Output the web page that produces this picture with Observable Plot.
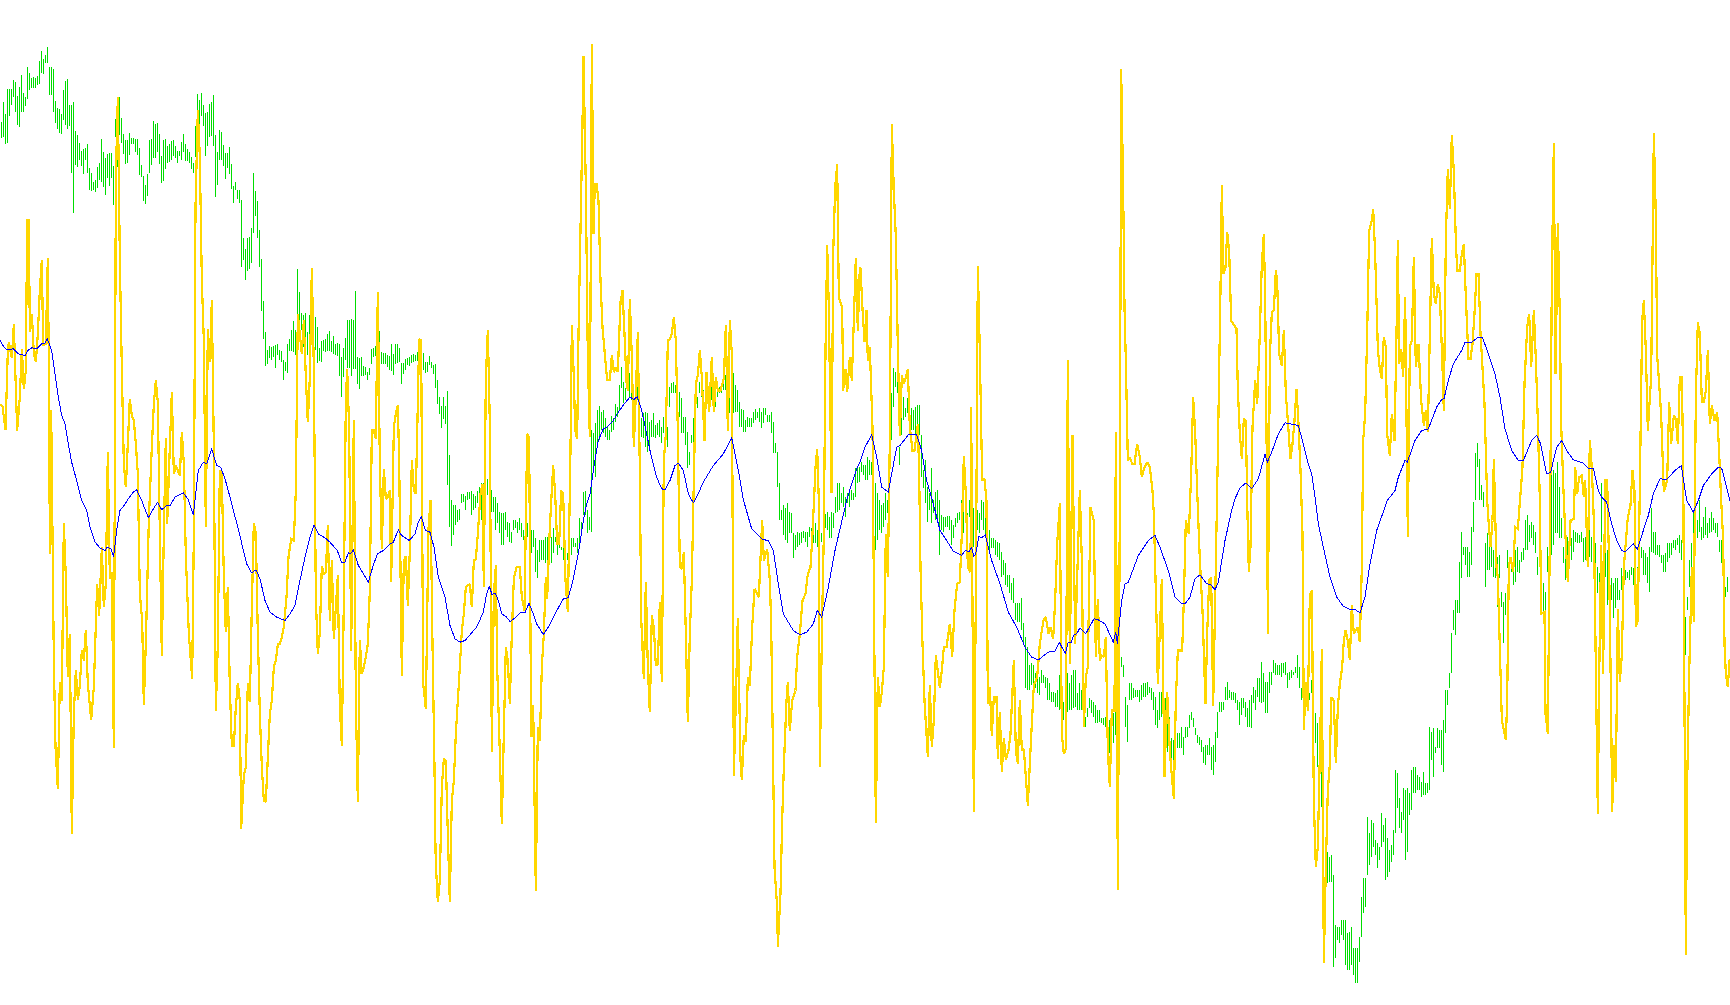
<!DOCTYPE html>
<html><head><meta charset="utf-8">
<style>html,body{margin:0;padding:0;background:#fff}svg{display:block}</style>
<script src="https://cdn.jsdelivr.net/npm/d3@7"></script>
<script src="https://cdn.jsdelivr.net/npm/@observablehq/plot@0.6"></script>
</head><body><div id="chart"></div>
<script>
// Values are on an unlabelled scale (depth units, larger = lower), positions t in samples/3.
const greenA=[366,413,306,410,342,431,267,428,267,348,267,314,240,290,246,335,288,374,261,380,
225,335,279,335,291,318,201,297,219,270,234,264,231,264,234,264,228,255,183,252,
153,219,177,222,165,189,141,189,201,285,201,285,207,336,303,369,324,387,327,399,
342,402,270,360,243,375,237,387,315,378,315,519,306,639,393,495,405,501,429,480,
453,498,447,522,444,480,432,519,504,570,519,573,546,570,540,576,501,564,489,540,
417,546,456,561,474,585,462,534,459,558,459,534,498,615,357,411,330,500,291,405,
354,429,402,462,420,492,420,489,399,465,414,432,414,432,417,456,417,465,444,525,
495,531,528,603,555,612,522,588,420,519,417,495,363,474,372,474,369,456,402,492,
468,549,420,543,417,507,438,489,432,486,423,480,420,468,438,474,453,489,453,468,
426,480,402,456,432,483,447,483,456,489,471,507,489,519,378,470,282,350,300,400,
279,348,315,378,339,468,336,438,312,411,306,408,285,438,405,591,456,555,390,480,
396,480,435,498,459,537,459,504,441,522,492,567,558,609,546,570,570,597,570,609,
600,801,714,780,747,840,714,813,711,807,684,789,519,699,573,648,603,714,690,801,
777,933,903,1017,996,1098,1050,1092,1038,1074,1041,1080,1038,1071,1035,1104,1032,1065,1050,1080,
1053,1086,1080,1140,1086,1113,1032,1119,1017,1053,990,1053,963,1056,990,1065,807,1062,876,990,
939,990,945,1040,939,1020,996,1065,945,1020,900,1000,909,1050,951,1050,981,1089,1044,1083,
1023,1086,1020,1053,1017,1056,1002,1053,993,1053,1023,1056,1008,1062,1032,1065,1029,1068,1032,1128,
1071,1191,1044,1131,1014,1080,960,1104,960,1104,957,1128,960,1107,873,1107,1071,1152,1074,1167,
1071,1128,1098,1128,1101,1125,1116,1140,1104,1125,1047,1092,1044,1071,1038,1068,1040,1090,993,1092,
1056,1092,1059,1092,1059,1092,1065,1101,1068,1110,1032,1113,1062,1125,1032,1092,1032,1089,1044,1086,
1089,1152,1089,1122,1077,1110,1074,1095,1071,1098,1065,1089,1062,1086,1065,1083,1056,1083,1053,1083,
1056,1083,1059,1110,1086,1119,1086,1116,1068,1095];
const greenB=[1086,1104,1095,1122,1092,1164,1140,1212,1191,1242,1218,1284,1191,1257,1218,1272,1173,1455,1365,1580,
1500,1637,1515,1605,1515,1575,1530,1565,1528,1560,1482,1510,1482,1505,1488,1530,1476,1500,1476,1497,
1473,1545,1482,1530,1488,1525,1473,1510,1462,1510,1448,1560,1448,1510,1490,1545,1438,1485,1470,1500,
1470,1535,1490,1535,1490,1590,1510,1570,1535,1600,1540,1635,1540,1635,1535,1590,1567,1610,1570,1625,
1595,1630,1560,1590,1560,1585,1565,1600,1555,1590,1570,1610,1590,1620,1585,1610,1570,1610,1590,1610,
1590,1660,1590,1640,1615,1715,1650,1735,1620,1685,1620,1680,1620,1680,1610,1690,1610,1680,1590,1690,
1610,1690,1585,1660,1610,1625,1625,1665,1625,1645,1640,1650,1640,1680,1645,1690,1660,1680,1650,1665,
1615,1665,1615,1640,1630,1640,1615,1660,1555,1640,1565,1590,1475,1545,1472,1545,1530,1600,1550,1590,
1290,1595,1300,1420,1270,1430,1230,1340,1218,1320,1235,1290,1230,1300,1255,1310,1280,1320,1290,1320,
1248,1295,1255,1290,1212,1265,1220,1250,1155,1230,1100,1165,1145,1210,1165,1200,1145,1170,1120,1190,
1165,1200,1165,1215,1185,1260,1060,1200,1160,1260,1255,1310,1240,1315,1235,1340,1240,1355,1265,1350,
1260,1310,1240,1310,1275,1315,1270,1305,1260,1310,1280,1330,1250,1300,1218,1330,1280,1340,1160,1220,
1150,1180,1145,1180,1155,1180,1145,1170,1175,1250,1195,1300,1250,1300,1250,1335,1295,1405,1355,1395,
1305,1330,1255,1330,1150,1200,1190,1225,1145,1180,1165,1190,1170,1230,1165,1230,1150,1200,1145,1185,
1150,1200,1145,1220,1150,1220,1160,1190,1160,1180,1170,1180,1140,1170,1125,1170,1100,1290,1120,1240,
1170,1235,1120,1240,1155,1235,1170,1235,1205,1280,1228,1280,1230,1295,1260,1295,1250,1280,1255,1280,
1255,1280,1235,1270,1228,1260,1235,1255,1225,1265,1235,1285,1225,1270,1225,1245,1245,1265,1245,1265,
1235,1300,1265,1360,1330,1360,1355,1460,1450,1560,1530,1560,1515,1605,1525,1620,1510,1630,1535,1600,
1540,1600,1600,1675,1605,1650,1595,1640,1600,1635,1595,1630,1592,1615,1595,1625,1595,1640,1580,1610,
1585,1620,1575,1630,1570,1630,1590,1640,1560,1690,1600,1625,1540,1600,1543,1585,1535,1590,1550,1615,
1535,1615,1540,1585,1490,1540,1450,1535,1450,1530,1480,1510,1460,1520,1490,1550,1480,1510,1475,1520,
1470,1500,1480,1500,1405,1490,1400,1450,1400,1445];
const greenC=[1385,1415,1395,1425,1395,1440,1370,1440,1380,1425,1385,1425,1440,1530,1450,1650,1480,1620,1500,1590,
1515,1600,1510,1580,1480,1560,1500,1540,1500,1530,1180,1320,1105,1220,1115,1160,1130,1180,1340,1395,
1240,1305,1190,1260,1225,1250,1195,1240,1205,1250,1225,1290,1230,1290,1220,1320,1215,1300,1215,1305,
1305,1430,1410,1465,1380,1510,1460,1565,1480,1530,1405,1570,1500,1540,1475,1560,1470,1555,1500,1665,
1545,1590,1550,1595,1550,1580,1548,1582,1548,1590,1560,1635,1575,1615,1555,1580,1540,1570,1535,1560,
1500,1560,1525,1600,1500,1550,1540,1580,1500,1550,1530,1590,1525,1640,1500,1540,1530,1590,1540,1600,
1500,1560,1505,1590,1550,1605,1550,1620,1590,1650,1615,1645,1615,1645,1620,1665,1625,1670,1630,1680,
1655,1730,1680,1725,1690,1755,1725,1760,1725,1780,1750,1800,1735,1810,1810,1860,1810,1865,1810,1865,
1795,1890,1870,1930,1910,2065,1940,2070,1995,2070,1990,2055,1995,2055,2020,2065,2035,2080,2030,2085,
2010,2050,2025,2050,2030,2065,2035,2100,2050,2100,2075,2105,2075,2105,2080,2120,2070,2120,2025,2130,
2080,2130,2105,2160,2020,2140,2020,2135,2050,2130,2025,2130,2010,2125,2010,2120,2080,2130,2050,2130,
2070,2130,2090,2180,2150,2180,2125,2150,2095,2125,2100,2140,2105,2150,2115,2170,2130,2170,2130,2165,
2155,2170,2155,2175,2150,2180,2165,2220,2160,2260,2200,2260,2140,2230,2065,2205,1975,2410,1785,2030,
1970,2000,1995,2030,2090,2180,2115,2225,2050,2100,2050,2100,2065,2095,2070,2090,2070,2090,2070,2105,
2055,2100,2050,2090,2050,2090,2045,2085,2060,2080,2065,2100,2075,2130,2090,2175,2130,2185,2075,2160,
2075,2150,2080,2160,2095,2220,2110,2255,2150,2255,2215,2310,2220,2325,2235,2280,2200,2245,2200,2245,
2180,2245,2210,2265,2180,2215,2180,2210,2145,2185,2135,2160,2155,2180,2185,2205,2205,2230,2210,2235,
2220,2255,2240,2290,2235,2295,2235,2265,2215,2265,2240,2310,2235,2325,2195,2285,2135,2215,2105,2135,
2105,2135,2105,2130,2060,2100,2045,2100,2070,2095,2075,2100,2075,2100,2080,2110,2100,2130,2105,2175,
2095,2145,2095,2125,2105,2150,2125,2180,2100,2180,2085,2185,2060,2110,2070,2130,2035,2090,2035,2105,
1985,2110,2020,2105,2045,2140,2045,2140,2015,2080,2015,2055,1980,2020,1990,2025,1995,2025,1995,2025,
1990,2030,1990,2020,1985,2025,2020,2065];
const greenD=[2015,2040,2010,2035,2015,2025,2000,2020,1965,2035,2000,2065,2065,2100,2040,2085,2045,2090,2045,2085,
2080,2100,2040,2080,2115,2195,2140,2230,2170,2300,2150,2400,2130,2420,2395,2520,2585,2710,2555,2650,
2570,2645,2565,2645,2625,2900,2775,2875,2780,2820,2780,2830,2760,2805,2760,2820,2760,2895,2800,2910,
2795,2910,2780,2895,2845,2925,2845,2950,2845,2950,2810,2885,2690,2810,2635,2740,2635,2720,2450,2625,
2500,2595,2460,2570,2470,2540,2520,2565,2530,2605,2540,2580,2440,2540,2475,2525,2455,2640,2515,2630,
2550,2615,2535,2585,2490,2565,2310,2500,2320,2425,2395,2485,2435,2500,2365,2460,2370,2580,2365,2555,
2380,2445,2310,2430,2300,2380,2300,2380,2325,2370,2330,2370,2345,2390,2315,2385,2350,2385,2350,2380,
2180,2370,2195,2280,2185,2330,2240,2260,2185,2245,2190,2245,2190,2295,2160,2315,2070,2200,2070,2115,
2020,2065,1900,2020,1830,1890,1800,1905,1800,1840,1685,1840,1595,1735,1640,1665,1640,1695,1640,1730,
1655,1730,1580,1695,1505,1595,1360,1500,1328,1400,1378,1500,1455,1500,1475,1520,1630,1760,1600,1710,
1630,1710,1570,1700,1650,1730,1650,1735,1670,1820,1665,1735,1775,1820,1805,1930,1780,1845,1650,1705,
1675,1705,1680,1715,1680,1755,1650,1745,1640,1715,1680,1720,1655,1685,1645,1680,1560,1650,1545,1650,
1575,1625,1565,1615,1575,1635,1595,1660,1670,1725,1670,1700,1725,1780,1750,1835,1775,1840,1640,1715,
1580,1755,1385,1665,1410,1635,1420,1600,1385,1600,1460,1615,1555,1615,1640,1690,1610,1740,1610,1670,
1640,1685,1615,1680,1590,1655,1595,1625,1600,1630,1605,1630,1595,1625,1615,1685,1610,1680,1600,1670,
1590,1670,1610,1685,1620,1690,1630,1690,1700,1780,1720,1790,1450,1625,1650,1850,1660,1730,1650,1815,
1650,1815,1735,1800,1750,1855,1735,1825,1735,1800,1770,1800,1705,1770,1705,1770,1710,1740,1715,1735,
1710,1740,1700,1725,1705,1755,1700,1725,1700,1810,1640,1710,1640,1675,1650,1725,1660,1725,1670,1750,
1640,1775,1525,1655,1595,1660,1595,1665,1635,1665,1635,1670,1665,1690,1665,1715,1660,1715,1630,1685,
1630,1675,1630,1665,1620,1645,1620,1650,1615,1635,1605,1660,1620,1680,1675,1930,1850,1965,1790,1830,
1680,1760,1630,1720,1535,1775,1535,1630,1560,1615,1500,1595,1580,1620,1550,1615,1520,1605,1570,1615,
1555,1600,1535,1595,1555,1590,1570,1600,1570,1610,1620,1655,1620,1690,1725,1820,1760,1790,1730,1775];

const yellowA=[0,1213,6,1218,15,1288,22,1050,25,1025,34,1072,40,972,50,1290,58,1190,64,1045,70,1165,76,1110,80,660,85,660,88,995,94,940,100,1060,106,1085,112,1000,118,870,124,778,128,1035,136,1030,142,772,146,1215,148,1660,152,1230,156,1600,160,1980,165,2240,172,2365,178,2045,184,2100,190,1567,196,1730,202,2030,208,1900,214,2500,220,2140,226,2010,232,2098,238,2055,244,1950,250,1980,256,1888,262,2050,272,2158,280,2060,290,1750,296,1845,304,1640,310,1820,316,1750,322,1355,328,1735,334,1715,340,2242,346,530,352,290,355,530,358,775,361,940,364,1105,370,1390,376,1460,382,1330,388,1195,394,1245,400,1260,406,1330,412,1420,418,1780,425,1860,430,2113,436,1930,445,1560,454,1340,460,1210,466,1140,472,1205,478,1600,484,1965,490,1600,496,1312,500,1570,508,1340,514,1175,520,1420,526,1395,538,1425,544,1295,550,1390,556,1665,565,1900,575,2035,580,1600,585,620,592,330,598,470,604,840,610,1020,616,1580,622,985,628,1085,634,900,640,1340,646,2130,652,1930,658,1410,664,1420,670,1730,676,1895,682,1760,688,2060,694,2235,700,2235,706,2120,712,2047,718,2100,722,2485,730,2325,736,2300,742,2047,748,2105,754,1820,760,1567,766,1600,772,1900,778,2140,784,2300,790,2400,796,2405,802,2270,808,2140,814,2100,820,2000,826,1980,832,1932,838,1930,844,1910,850,1880,858,1790,864,1670,872,1615,880,1620,886,1470,889,1205,892,940,898,1000,904,1060,910,960,916,1130,922,1265,928,1130,934,802,940,1100,946,1790,952,1960,958,1895,964,1696,970,1722,976,1715,982,1575,988,1860,994,1680,1000,1915,1006,1820,1012,1725,1018,2120,1024,2235,1030,1800,1036,1200,1040,1105,1046,1285,1052,1950,1060,1260,1066,2100,1072,2405,1078,1920,1084,2020,1090,2000,1096,1970,1102,1930,1108,1770,1114,1290,1120,1290,1126,1315,1132,875,1138,1390,1144,1645,1150,1405,1156,1495,1162,1490,1168,1470,1172,1745,1180,1280,1186,1240,1192,1215,1196,1380,1204,2025,1210,1680,1216,1667,1222,1815,1228,1650,1234,1380,1240,1470,1246,1480,1250,1300,1256,1015,1262,1020,1268,2050,1276,2125,1284,1585];
const yellowB=[0,1500,6,1930,12,2300,15,2550,18,2630,22,2705,28,2640,34,2360,40,2275,46,2280,52,2500,58,2705,64,2400,70,2340,76,2200,82,2100,88,2000,94,1890,100,1840,106,1760,112,1755,118,1750,124,1820,130,1680,136,1675,142,1600,150,1480,156,1450,160,1760,166,1130,172,990,178,1270,184,2255,190,1780,196,1695,200,2000,206,2190,214,2470,220,2200,226,1940,232,1980,238,2110,244,1900,250,1735,258,1700,268,1700,274,1790,282,1830,290,1300,296,1310,302,2210,308,2115,316,2670,322,2180,328,2220,334,2000,340,1900,346,1730,350,1795,358,1580,368,1395,374,1480,380,1630,386,1630,392,1470,398,1480,405,1740,412,1835,420,1350,424,975,430,1130,434,1290,440,1315,444,1000,450,685,456,370,459,168,466,560,472,1075,478,1310,484,132,489,700,493,550,498,550,504,600,510,840,516,980,522,1050,530,1138,538,1138,544,1065,550,1115,556,1100,562,1115,570,905,576,870,582,1000,588,1145,592,1170,598,895,604,1070,610,1340,616,1180,622,995,628,1410,632,1850,640,2035,646,1745,652,2000,658,2135,664,1845,670,1880,676,1995,682,1990,688,1805,694,2045,700,1380,706,1300,712,1020,718,1015,724,1000,730,950,736,1020,742,1290,748,1700,754,1705,760,1655,766,1900,772,2165,778,1900,784,1740,790,1440,796,1150,802,1125,808,1050,814,1130,822,1320,828,1115,836,1235,844,1070,850,1235,856,1130,862,1170,870,1170,880,1135,886,975,892,1290,898,960,904,1060,910,2325,916,2100,922,1852,930,2280,934,2338,940,2205,946,2225,952,2030,958,2055,965,1880,972,1765,985,1790,995,1560,1000,1680,1010,1645,1018,1740,1022,1870,1028,2300,1032,2600,1040,2720,1042,2838,1050,2680,1055,2460,1060,2300,1068,2100,1072,2045,1078,2190,1085,2100,1095,2070,1100,1970,1108,1900,1116,1800,1125,1780,1132,1720,1140,1700,1146,1600,1155,1400,1160,1345,1165,1500,1168,2298,1175,1850,1180,1600,1185,1050,1190,735,1195,920,1203,1477,1208,760,1214,560,1220,492,1225,890,1235,920,1238,1170,1245,1105,1250,1175,1258,1070,1264,1140,1270,960,1276,772,1282,990,1288,800];
const yellowC=[0,805,6,925,12,1025,18,930,22,1080,28,1040,36,1280,46,2467,52,2030,58,2120,64,2075,70,2000,76,1600,82,1730,88,1320,94,372,100,570,106,710,112,1040,118,1305,124,1125,130,1150,136,1130,142,1105,148,1280,156,1350,162,1350,172,1270,176,1420,180,1700,186,1930,192,2100,202,2270,208,2053,214,2240,220,2160,226,1965,238,2063,244,2010,250,1940,258,1940,268,1870,275,1970,282,1830,290,1750,298,1745,304,1600,310,1368,316,1480,322,1700,330,1715,332,1220,340,2435,346,1800,352,796,358,1055,365,1440,372,1435,378,1500,382,2110,388,2060,394,2205,400,2090,408,2090,412,2275,418,2135,424,2315,430,2212,436,2278,444,2250,450,2200,456,2070,460,1978,466,2250,472,2290,478,2100,484,2250,490,2245,496,2330,502,2415,508,2290,514,2170,520,2055,530,2030,538,1930,544,1890,550,1855,556,1850,564,1900,570,1880,578,1915,584,1800,590,1630,598,1508,604,2200,610,2260,616,2245,622,1080,628,1990,636,1305,644,1930,658,1470,664,1680,670,2180,676,2030,682,2000,690,1520,700,1560,706,1970,712,1795,718,1980,724,1965,730,1970,736,1910,742,2250,748,2358,754,2130,762,2130,766,1295,772,2668,778,1500,782,205,788,565,792,920,796,1080,802,1380,808,1370,815,1390,822,1390,830,1330,838,1370,844,1430,852,1400,860,1385,868,1400,876,1470,880,1540,888,1850,892,2050,904,1735,908,2040,912,2330,920,2075,928,2250,935,2340,940,2395,946,2100,952,1950,965,1950,970,1800,976,1560,985,1600,992,1420,998,1190,1004,1295,1010,1470,1016,1630,1020,1715,1026,1830,1035,2110,1040,1900,1046,1740,1052,1730,1058,2115,1064,1800,1072,1360,1080,870,1084,553,1089,820,1095,800,1100,695,1106,750,1112,960,1128,985,1132,1165,1138,1300,1144,1375,1150,1255,1156,1260,1160,1500,1165,1715,1170,1640,1176,1280,1184,1140,1190,1210,1198,1000,1204,790,1210,700,1214,890,1220,1500,1222,1900,1228,1070,1234,935,1240,930,1246,810,1250,840,1256,1060,1264,1095,1270,990,1276,1180,1282,1260,1288,1350];
const yellowD=[0,1375,6,1330,12,1260,18,1165,24,1270,30,1410,36,1600,40,2188,46,2045,52,2130,58,1785,64,1770,70,2400,76,2600,82,2540,90,2170,94,1945,100,2888,106,2600,112,2370,118,2290,122,2090,130,2100,136,2287,142,2120,148,2050,155,2000,160,1920,165,1890,172,1920,178,1978,184,1815,190,1900,202,1880,208,1925,214,1700,218,1320,224,1240,230,1000,236,690,244,660,248,625,254,760,258,900,262,1045,268,1105,274,1135,280,1010,286,1040,290,1300,298,1365,304,1240,312,1320,318,1000,322,720,326,1090,332,1045,338,1130,344,890,352,1610,358,1040,364,1020,370,770,376,1100,384,1030,392,1200,400,1275,406,1230,412,1295,418,1000,424,712,430,880,436,910,442,850,448,880,456,1100,460,1230,466,720,472,505,478,625,484,403,490,515,496,720,500,810,508,810,514,760,520,730,526,890,534,1075,540,1075,546,1030,552,940,558,820,564,820,570,1000,576,1100,582,1210,590,1500,594,1560,600,1640,606,1560,610,1375,618,1700,622,1730,628,1940,634,2160,646,2218,650,2100,655,1700,660,1670,668,1715,674,1580,682,1585,690,1480,696,1400,702,1150,710,980,716,940,722,1100,730,930,736,1075,742,1260,748,1500,752,1840,762,1835,765,2140,772,2200,776,1800,780,1400,784,830,790,427,795,1120,802,668,808,950,812,1270,820,1500,826,1630,832,1745,840,1560,850,1555,854,1400,860,1480,866,1430,874,1425,880,1490,884,1440,892,1700,898,1320,904,1400,910,1560,922,2440,926,2030,932,1635,938,2020,944,1440,950,1440,956,1700,962,2140,965,2435,970,2235,976,2345,982,1825,988,2045,994,1965,1000,1700,1012,1550,1020,1515,1026,1410,1032,1470,1036,1880,1042,1860,1048,1460,1055,960,1060,900,1066,1050,1072,1290,1082,1130,1086,770,1090,397,1096,650,1100,1065,1106,1150,1112,1245,1120,1475,1130,1440,1136,1205,1142,1330,1150,1245,1156,1255,1162,1330,1168,1130,1174,1130,1178,1380,1186,2863,1190,2350,1196,2020,1204,1700,1210,1865,1216,1190,1222,965,1228,1000,1234,1205,1240,1205,1246,1170,1252,1050,1258,1270,1264,1215,1272,1260,1280,1235,1286,1360,1292,1500,1298,1620,1302,1930,1306,2020,1312,2060,1317,1980];

const blueA=[0,1020,12,1040,20,1048,40,1045,55,1060,75,1065,85,1048,95,1042,110,1045,125,1030,135,1028,142,1015,155,1050,165,1120,175,1190,185,1245,195,1270,205,1330,215,1385,230,1440,245,1500,260,1530,270,1580,285,1625,300,1642,315,1650,322,1640,333,1645,341,1668,350,1590,360,1530,372,1515,385,1495,400,1475,410,1468,425,1500,445,1552,460,1525,473,1505,485,1528,500,1515,510,1515,525,1490,550,1477,565,1497,580,1543,595,1410,610,1385,620,1390,635,1345,650,1395,662,1400,675,1435,690,1490,700,1530,715,1585,730,1650,740,1690,755,1717,768,1708,780,1735,795,1800,810,1835,830,1850,855,1860,870,1840,885,1815,900,1740,915,1670,930,1610,942,1573,955,1600,975,1612,990,1625,1012,1650,1025,1687,1035,1685,1045,1657,1052,1660,1060,1648,1075,1695,1105,1745,1118,1700,1132,1660,1150,1650,1170,1630,1180,1625,1195,1588,1205,1605,1228,1620,1245,1600,1255,1565,1264,1548,1276,1590,1290,1595];
const blueB=[12,1640,25,1730,45,1790,60,1875,75,1915,90,1925,105,1920,125,1897,140,1880,160,1835,170,1780,178,1758,186,1782,196,1778,205,1800,215,1840,228,1848,240,1863,255,1852,270,1837,285,1837,297,1808,310,1840,320,1870,340,1902,355,1880,375,1840,400,1795,415,1792,430,1735,445,1660,460,1560,470,1510,480,1480,490,1410,505,1320,520,1285,530,1280,550,1260,565,1235,585,1207,600,1190,612,1197,622,1188,635,1230,650,1300,660,1350,680,1430,695,1465,705,1467,720,1440,735,1395,745,1388,760,1410,775,1480,790,1507,800,1490,820,1445,850,1395,880,1360,905,1312,925,1410,940,1497,965,1585,998,1617,1015,1620,1030,1650,1045,1750,1060,1840,1090,1890,1110,1903,1130,1895,1150,1870,1162,1830,1175,1850,1195,1760,1215,1650,1250,1500,1265,1450,1280,1405,1290,1385];
const blueC=[15,1340,35,1303,50,1370,65,1460,85,1475,95,1420,110,1340,120,1335,145,1303,170,1303,185,1350,200,1440,220,1510,240,1590,260,1620,280,1652,305,1665,315,1651,328,1652,335,1640,341,1668,347,1660,357,1607,365,1612,376,1603,395,1680,420,1750,445,1835,470,1880,495,1940,515,1970,535,1978,565,1955,585,1952,598,1925,616,1960,624,1927,634,1927,640,1905,650,1900,660,1882,677,1900,702,1855,715,1858,735,1870,760,1925,767,1895,772,1928,785,1800,795,1750,805,1745,835,1665,865,1620,885,1605,900,1640,925,1710,945,1790,965,1810,975,1810,990,1790,1005,1735,1020,1723,1040,1750,1052,1752,1065,1768,1075,1745,1095,1620,1115,1530,1125,1495,1140,1462,1158,1447,1175,1465,1195,1435,1215,1362,1222,1385,1235,1355,1255,1300,1275,1267,1290,1270];
const blueD=[25,1275,40,1330,55,1390,65,1420,75,1490,85,1570,100,1640,120,1730,140,1790,160,1817,180,1827,195,1827,210,1837,225,1790,240,1690,260,1590,292,1500,315,1470,325,1430,345,1380,352,1385,375,1320,395,1290,415,1285,440,1220,455,1197,462,1195,475,1140,490,1090,515,1050,525,1025,545,1025,565,1010,578,1012,595,1060,615,1120,630,1190,645,1285,665,1350,685,1380,700,1380,725,1320,740,1305,752,1330,770,1420,782,1415,800,1340,815,1320,830,1350,850,1378,880,1388,895,1403,910,1403,925,1470,935,1490,950,1505,965,1570,980,1620,995,1650,1005,1655,1030,1630,1042,1647,1060,1590,1075,1545,1090,1480,1110,1435,1130,1437,1155,1410,1174,1395,1190,1500,1210,1535,1225,1500,1240,1455,1265,1420,1285,1400,1295,1403,1320,1500];

const segmentStarts=[0,1290,2580,3870];
function joined(parts){const out=[];parts.forEach((p,k)=>{for(let i=0;i<p.length;i+=2)out.push({t:p[i]+segmentStarts[k],v:p[i+1]});});return out;}
const greenFlat=[...greenA,...greenB,...greenC,...greenD];
const green=[];for(let i=0;i<greenFlat.length;i+=2)green.push({t:4.5+3*i,hi:greenFlat[i],lo:greenFlat[i+1]});
const yellow=joined([yellowA,yellowB,yellowC,yellowD]);
const blue=joined([blueA,blueB,blueC,blueD]);

document.getElementById('chart').append(Plot.plot({
  width:1730,height:1005,margin:0,
  x:{domain:[0,5190],range:[0,1730],axis:null},
  y:{domain:[0,3015],range:[0,1005],axis:null},
  style:{background:"#fff"},
  marks:[
    Plot.ruleX(green,{x:"t",y1:"hi",y2:"lo",dx:-0.5,stroke:"#00dd00",strokeWidth:1,shapeRendering:"crispEdges"}),
    Plot.line(yellow,{x:"t",y:"v",stroke:"#ffd700",strokeWidth:2.2,strokeLinejoin:"miter",strokeMiterlimit:2,curve:"linear",shapeRendering:"crispEdges"}),
    Plot.line(blue,{x:"t",y:"v",dx:-0.5,stroke:"#0000ff",strokeWidth:1,curve:"linear",shapeRendering:"crispEdges"})
  ]
}));
</script></body></html>
